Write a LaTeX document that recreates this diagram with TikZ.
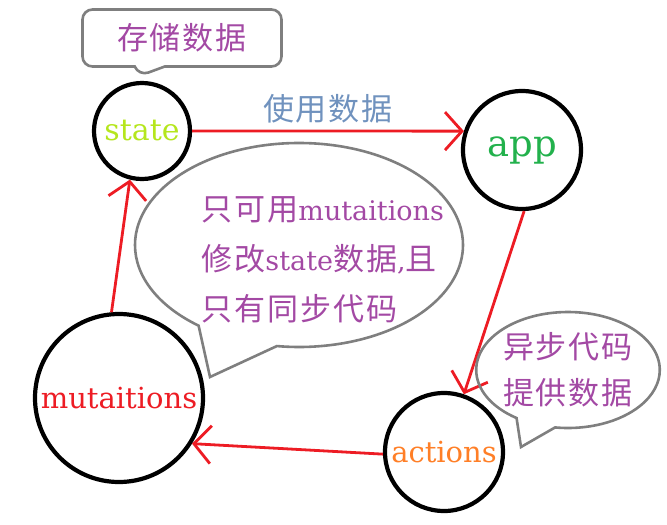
\documentclass[tikz,border=0pt]{standalone}
\usepackage{fontspec}
\setmainfont{DejaVu Serif}
\newfontfamily\cjk{Noto Sans CJK SC}[Scale=1.15,LetterSpace=6]
\usetikzlibrary{arrows.meta,shapes.callouts,positioning}

\definecolor{ared}{HTML}{ED1C24}
\definecolor{stgreen}{HTML}{B5E61D}
\definecolor{appgreen}{HTML}{22B14C}
\definecolor{actorange}{HTML}{FF7F27}
\definecolor{notepurple}{HTML}{A349A4}
\definecolor{usegray}{HTML}{7092BE}
\definecolor{callgray}{HTML}{7F7F7F}

\newcommand{\zh}[1]{{\cjk #1}}

\begin{document}
\begin{tikzpicture}[
    x=1pt, y=-1pt,
    mynode/.style={draw, circle, line width=4.2pt, inner sep=0pt, font=\fontsize{29}{34}\selectfont},
    myedge/.style={-{Straight Barb[length=17pt,width=38pt]}, line width=2.8pt, draw=ared},
    mynote/.style={draw=callgray, line width=2.6pt, text=notepurple, align=center, inner sep=0pt, font=\fontsize{27}{46}\selectfont}
]
\useasboundingbox (0,0) rectangle (667,525);

\node[mynode, minimum size=96pt, text=stgreen, font=\fontsize{30}{34}\selectfont] (state) at (142,131) {state};
\node[mynode, minimum size=118pt, text=appgreen, font=\fontsize{37}{40}\selectfont] (app) at (522,150) {app};
\node[mynode, minimum size=168pt, text=ared] (mut) at (119,398) {mutaitions};
\node[mynode, minimum size=118pt, text=actorange] (actions) at (444,452) {actions};

\draw[myedge] (state.east) -- (app.162) node[midway, above=3pt, text=usegray, font=\fontsize{27}{30}\selectfont] {\zh{使用数据}};
\draw[myedge] (app.272) -- (actions.71);
\draw[myedge] (actions.182) -- (mut.328);
\draw[myedge] (mut.95) -- (state.256);

% callouts
\node[mynote, rectangle callout, rounded corners=10pt, minimum width=199pt, minimum height=57pt,
      callout absolute pointer={(139,76)}, callout pointer width=30pt] (store) at (182,38) {\zh{存储数据}};
\node[mynote, ellipse callout, minimum width=328pt, minimum height=204pt,
      callout absolute pointer={(210,377)}, callout pointer arc=30] (limit) at (299,245) {};
\node[text=notepurple, align=left, anchor=west, font=\fontsize{27}{50}\selectfont] (limittext) at (198,260)
    {\zh{只可用}mutaitions\\ \zh{修改}state\zh{数据},\zh{且}\\ \zh{只有同步代码}};
\node[mynote, ellipse callout, minimum width=172pt, minimum height=116pt,
      callout absolute pointer={(521,447)}, callout pointer arc=26] (async) at (568,370) {\zh{异步代码}\\ \zh{提供数据}};
\end{tikzpicture}
\end{document}
